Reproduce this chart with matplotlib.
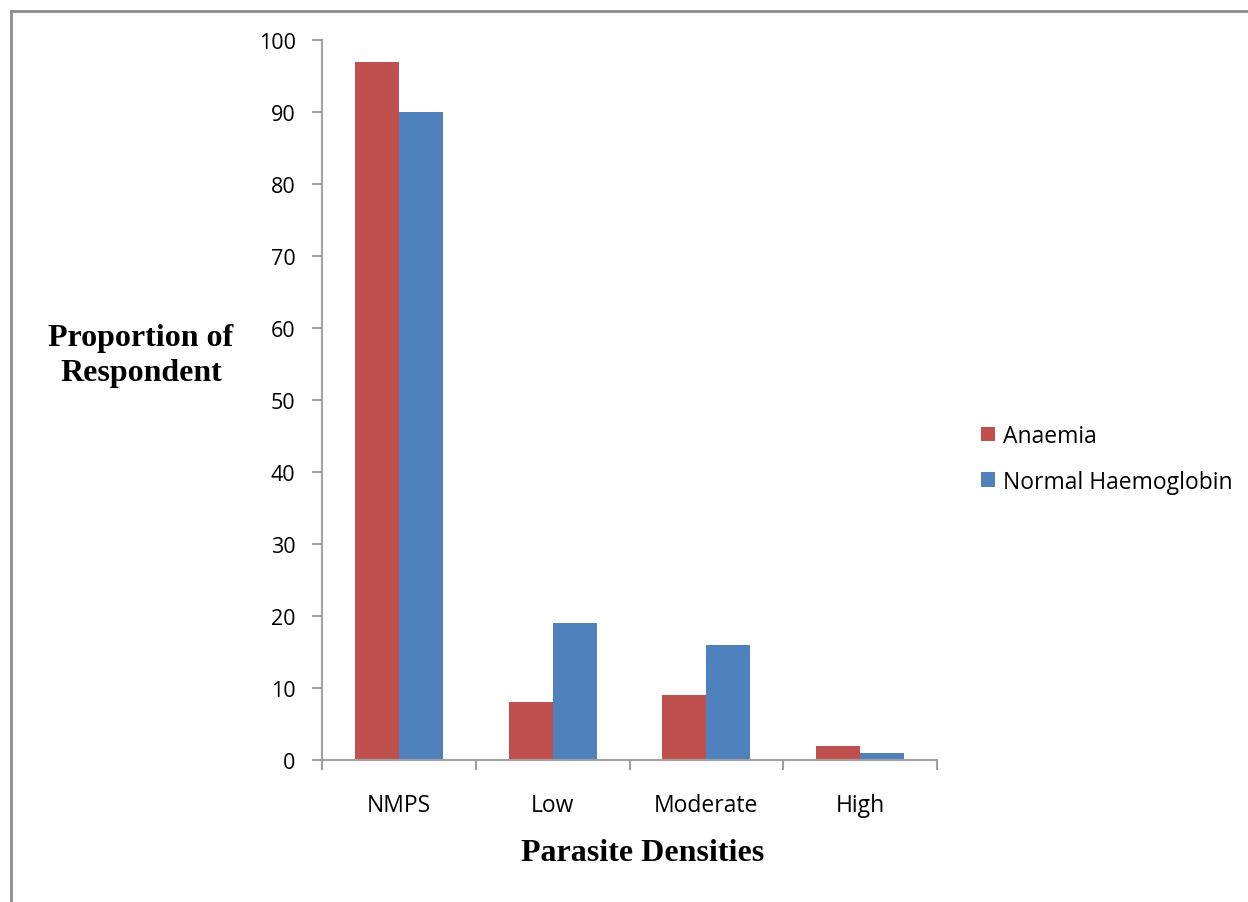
import matplotlib
matplotlib.use("Agg")
import matplotlib.pyplot as plt
from matplotlib.lines import Line2D
import numpy as np

categories = ["NMPS", "Low", "Moderate", "High"]
anaemia = [97, 8, 9, 2]
normal_hb = [90, 19, 16, 1]
series_names = ["Anaemia", "Normal Haemoglobin"]
yticks = list(range(0, 101, 10))

red = "#C0504D"
blue = "#4F81BD"
grey = "#A0A0A0"

fig = plt.figure(figsize=(12.48, 9.03), dpi=100)
ax = fig.add_axes([322/1248, 142/903, 615/1248, 720/903])

x = np.arange(len(categories))
w = 0.2857
b1 = ax.bar(x - w/2, anaemia, w, color=red, label=series_names[0])
b2 = ax.bar(x + w/2, normal_hb, w, color=blue, label=series_names[1])

ax.set_xlim(-0.5, len(categories) - 0.5)
ax.set_ylim(0, 100)
ax.set_yticks(yticks)
ax.set_yticklabels([str(v) for v in yticks], fontfamily="Open Sans", fontsize=15.5)
ax.set_xticks(x)
ax.set_xticklabels(categories, fontfamily="Open Sans", fontsize=16.5)
ax.tick_params(axis="x", which="major", length=0, pad=24)
ax.set_xticks(np.arange(-0.5, len(categories)), minor=True)
ax.tick_params(axis="x", which="minor", length=7, width=1.5, color=grey, direction="out")
ax.tick_params(axis="y", length=7, width=1.5, color=grey, direction="out", pad=12)

for s in ["top", "right"]:
    ax.spines[s].set_visible(False)
for s in ["left", "bottom"]:
    ax.spines[s].set_color(grey)
    ax.spines[s].set_linewidth(1.5)

fig.text(141/1248, 1 - 356/903, "Proportion of\nRespondent", ha="center", va="center",
         fontfamily="Liberation Serif", fontweight="bold", fontsize=23, linespacing=1.28)
fig.text(643/1248, 1 - 854/903, "Parasite Densities", ha="center", va="center",
         fontfamily="Liberation Serif", fontweight="bold", fontsize=23)

leg = fig.legend(handles=[b1, b2], loc="center left", bbox_to_anchor=(960/1248, 1 - 460/903),
                 frameon=False, prop={"family": "Open Sans", "size": 16.5},
                 handlelength=0.62, handleheight=0.62, handletextpad=0.35, labelspacing=0.95)

fig.add_artist(Line2D([10.5/1248, 10.5/1248], [0, 1 - 11.5/903], transform=fig.transFigure,
                      color="#8C8C8C", linewidth=2))
fig.add_artist(Line2D([10.5/1248, 1], [1 - 11.5/903, 1 - 11.5/903], transform=fig.transFigure,
                      color="#8C8C8C", linewidth=2))

fig.savefig("out.png", dpi=100)
